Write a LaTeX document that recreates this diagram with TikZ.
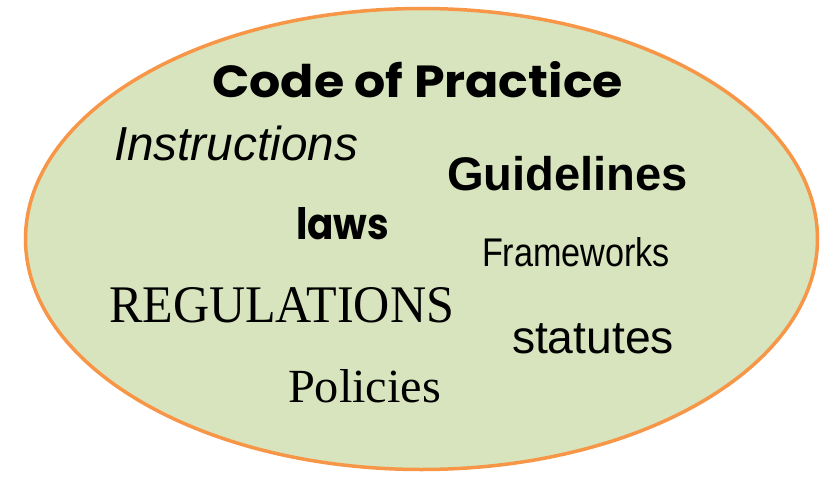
\documentclass[tikz,border=0pt]{standalone}
\usepackage{fontspec}
\usepackage{graphicx}
\newfontfamily\arialf{Liberation Sans}
\newfontfamily\timesf{Liberation Serif}
\newfontfamily\popf{Poppins}
\definecolor{fillgreen}{HTML}{D7E4BD}
\definecolor{edgeorange}{HTML}{F79646}
\tikzset{word/.style={anchor=base west, inner sep=0pt, outer sep=0pt}}
\begin{document}
\begin{tikzpicture}[x=1pt,y=-1pt]
\useasboundingbox (0,0) rectangle (828,477);
\draw[edgeorange, line width=3.5pt, fill=fillgreen] (421.5,239) ellipse [x radius=396, y radius=230.5];
\node[word] (cop) at (212,97) {\resizebox{411pt}{36pt}{\popf\bfseries Code of Practice}};
\node[word] (ins) at (114,160) {\resizebox{244pt}{!}{\arialf\itshape Instructions}};
\node[word] (gui) at (447,190) {\resizebox{241pt}{!}{\arialf\bfseries Guidelines}};
\node[word] (law) at (296,239) {\resizebox{93pt}{32pt}{\popf\bfseries laws}};
\node[word] (fra) at (482,266) {\resizebox{188pt}{29pt}{\arialf Frameworks}};
\node[word] (reg) at (109,322) {\resizebox{345pt}{35pt}{\timesf REGULATIONS}};
\node[word] (sta) at (512,353) {\resizebox{162pt}{!}{\arialf statutes}};
\node[word] (pol) at (288,402) {\resizebox{153pt}{33pt}{\timesf Policies}};
\end{tikzpicture}
\end{document}
